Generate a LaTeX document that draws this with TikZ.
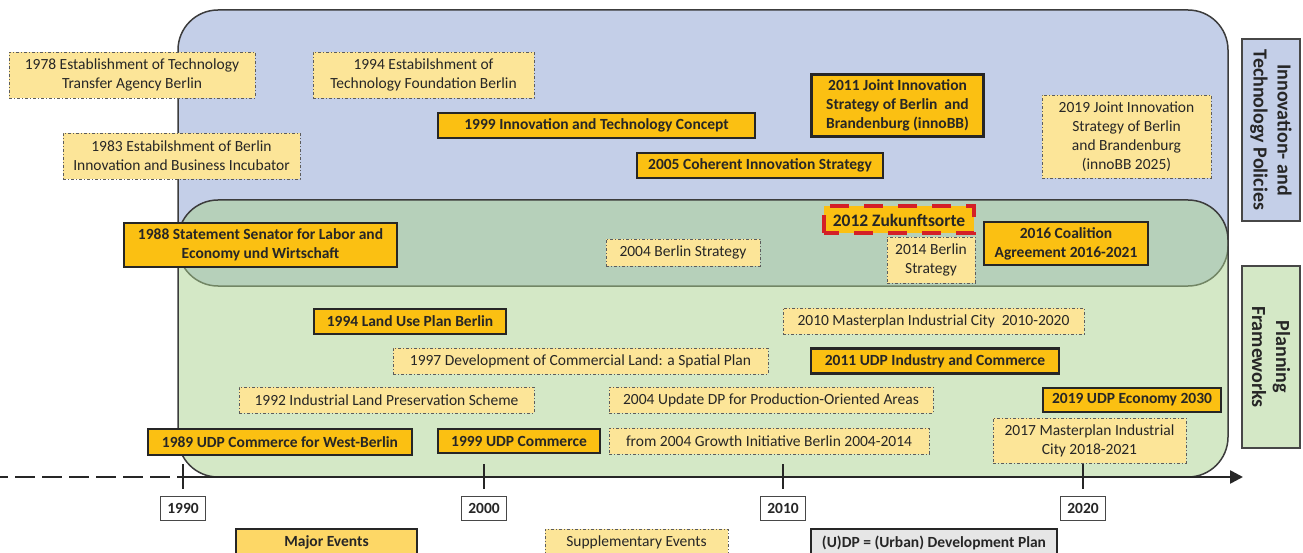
\documentclass[tikz,border=0pt]{standalone}
\usepackage{fontspec}
\setmainfont{Carlito}
\usepackage{xcolor}
\usetikzlibrary{positioning,arrows.meta}
\definecolor{ink}{HTML}{262626}
\definecolor{majorfill}{HTML}{FBC012}
\definecolor{legendfill}{HTML}{FDD766}
\definecolor{suppfill}{HTML}{FCE598}
\definecolor{itpblue}{HTML}{C4CFE8}
\definecolor{pfgreen}{HTML}{A9D18E}
\definecolor{zred}{HTML}{D42027}
\definecolor{udpgray}{HTML}{E6E6E6}

\begin{document}
\begin{tikzpicture}[x=1pt, y=-1pt,
      every node/.style={align=center, text=ink, inner sep=0pt, font=\fontsize{15.5}{19}\selectfont},
      major/.style={draw=ink, line width=2.5pt, fill=majorfill, font=\fontsize{15.5}{19}\selectfont\bfseries},
      supp/.style={draw=ink!75, line width=0.9pt, dash pattern=on 3pt off 2pt on 1pt off 2pt, fill=suppfill},
      yearlbl/.style={draw=ink!85, line width=1.3pt, fill=white, minimum width=45pt, minimum height=24pt, font=\fontsize{15.5}{19}\selectfont\bfseries},
      sidelbl/.style={draw=ink!85, line width=2.5pt, rotate=-90, minimum width=182pt, minimum height=58pt, font=\fontsize{20}{24}\selectfont\bfseries},
      wh/.style 2 args={minimum width=#1pt, minimum height=#2pt},
      tick/.style={draw=ink, line width=2.5pt}]
    \useasboundingbox (0,0) rectangle (1303,553);

    % the two policy fields and their overlap
    \draw[draw=ink!90, line width=1.5pt, fill=itpblue, rounded corners=40pt] (178,10) rectangle (1228,286);
    \draw[draw=ink!90, line width=1.5pt, fill=pfgreen, fill opacity=0.5, rounded corners=40pt] (178,200) rectangle (1228,477);

    \node[sidelbl, fill=itpblue](itplbl) at (1271,130) {Innovation- and\\Technology Policies};
    \node[sidelbl, fill=pfgreen!50](pflbl) at (1271,357) {Planning\\Frameworks};

    % timeline
    \coordinate (tl) at (0,477);
    \coordinate (t0) at (180,477);
    \coordinate (tr) at (1243,477);
    \draw[tick, dash pattern=on 20pt off 7pt, dash phase=12pt] (tl) -- (t0);
    \draw[tick, -{Triangle[length=13pt,width=13pt]}] (t0) -- (tr);

    \coordinate (t1990) at (183,477);
    \coordinate (t2000) at (484,477);
    \coordinate (t2010) at (783,477);
    \coordinate (t2020) at (1083,477);
    \draw[tick] ([yshift=13pt]t1990) -- ([yshift=-12pt]t1990);
    \draw[tick] ([yshift=13pt]t2000) -- ([yshift=-12pt]t2000);
    \draw[tick] ([yshift=13pt]t2010) -- ([yshift=-12pt]t2010);
    \draw[tick] ([yshift=13pt]t2020) -- ([yshift=-12pt]t2020);
    \node[yearlbl, below=19pt of t1990](y1990) {1990};
    \node[yearlbl, below=19pt of t2000](y2000) {2000};
    \node[yearlbl, below=19pt of t2010](y2010) {2010};
    \node[yearlbl, below=19pt of t2020](y2020) {2020};

    % supplementary events
    \node[supp, wh={246}{46}](tta78) at (132,75) {1978 Establishment of Technology\\Transfer Agency Berlin};
    \node[supp, wh={221}{46}](tf94) at (423.5,75) {1994 Estabilshment of\\Technology Foundation Berlin};
    \node[supp, wh={237}{46}](bic83) at (181.5,156) {1983 Estabilshment of Berlin\\Innovation and Business Incubator};
    \node[supp, wh={169}{83}](innobb19) at (1126.5,136.5) {2019 Joint Innovation\\Strategy of Berlin\\and Brandenburg\\(innoBB 2025)};
    \node[supp, wh={154}{27}](bs04) at (683,252.5) {2004 Berlin Strategy};
    \node[supp, wh={88}{46}](bs14) at (931,260) {2014 Berlin\\Strategy};
    \node[supp, wh={301}{26}](mpic10) at (933.5,321) {2010 Masterplan Industrial City~ 2010-2020};
    \node[supp, wh={375}{26}](dcl97) at (580.5,361) {1997 Development of Commercial Land: a Spatial Plan};
    \node[supp, wh={295}{26}](ilps92) at (386.5,400) {1992 Industrial Land Preservation Scheme};
    \node[supp, wh={324}{26}](dppo04) at (771,400) {2004 Update DP for Production-Oriented Areas};
    \node[supp, wh={320}{26}](gi04) at (769,441) {from 2004 Growth Initiative Berlin 2004-2014};
    \node[supp, wh={193}{45}](mpic17) at (1089.5,440.5) {2017 Masterplan Industrial\\City 2018-2021};

    % major events
    \node[major, wh={317}{25}](itc99) at (596.5,125.5) {1999 Innovation and Technology Concept};
    \node[major, wh={246}{25}](cis05) at (760,165.5) {2005 Coherent Innovation Strategy};
    \node[major, wh={172}{62}](innobb11) at (897.5,105.5) {2011 Joint Innovation\\Strategy of Berlin~ and\\Brandenburg (innoBB)};
    \node[major, wh={273}{44}](stmt88) at (260.5,245) {1988 Statement Senator for Labor and\\Economy und Wirtschaft};
    \node[major, draw=zred, line width=4pt, dash pattern=on 19pt off 15pt, dash phase=4pt, wh={150}{27}, font=\fontsize{17.5}{21}\selectfont\bfseries](zuk12) at (899,220) {2012 Zukunftsorte};
    \node[major, wh={164}{43}](coal16) at (1066,243.5) {2016 Coalition\\Agreement 2016-2021};
    \node[major, wh={192}{25}](lup94) at (410,321.5) {1994 Land Use Plan Berlin};
    \node[major, wh={248}{25}](udpic11) at (935,361) {2011 UDP Industry and Commerce};
    \node[major, wh={178}{24}](udpe19) at (1132,400) {2019 UDP Economy 2030};
    \node[major, wh={264}{26}](udpwb89) at (280,442) {1989 UDP Commerce for West-Berlin};
    \node[major, wh={162}{24}](udpc99) at (519,441) {1999 UDP Commerce};

    % legend
    \node[major, fill=legendfill, wh={181}{27}](lgmajor) at (326.5,542.5) {Major Events};
    \node[supp, wh={183}{27}](lgsupp) at (636.5,542.5) {Supplementary Events};
    \node[major, fill=udpgray, wh={246}{27}](lgudp) at (934,542.5) {(U)DP = (Urban) Development Plan};
  \end{tikzpicture}
\end{document}
